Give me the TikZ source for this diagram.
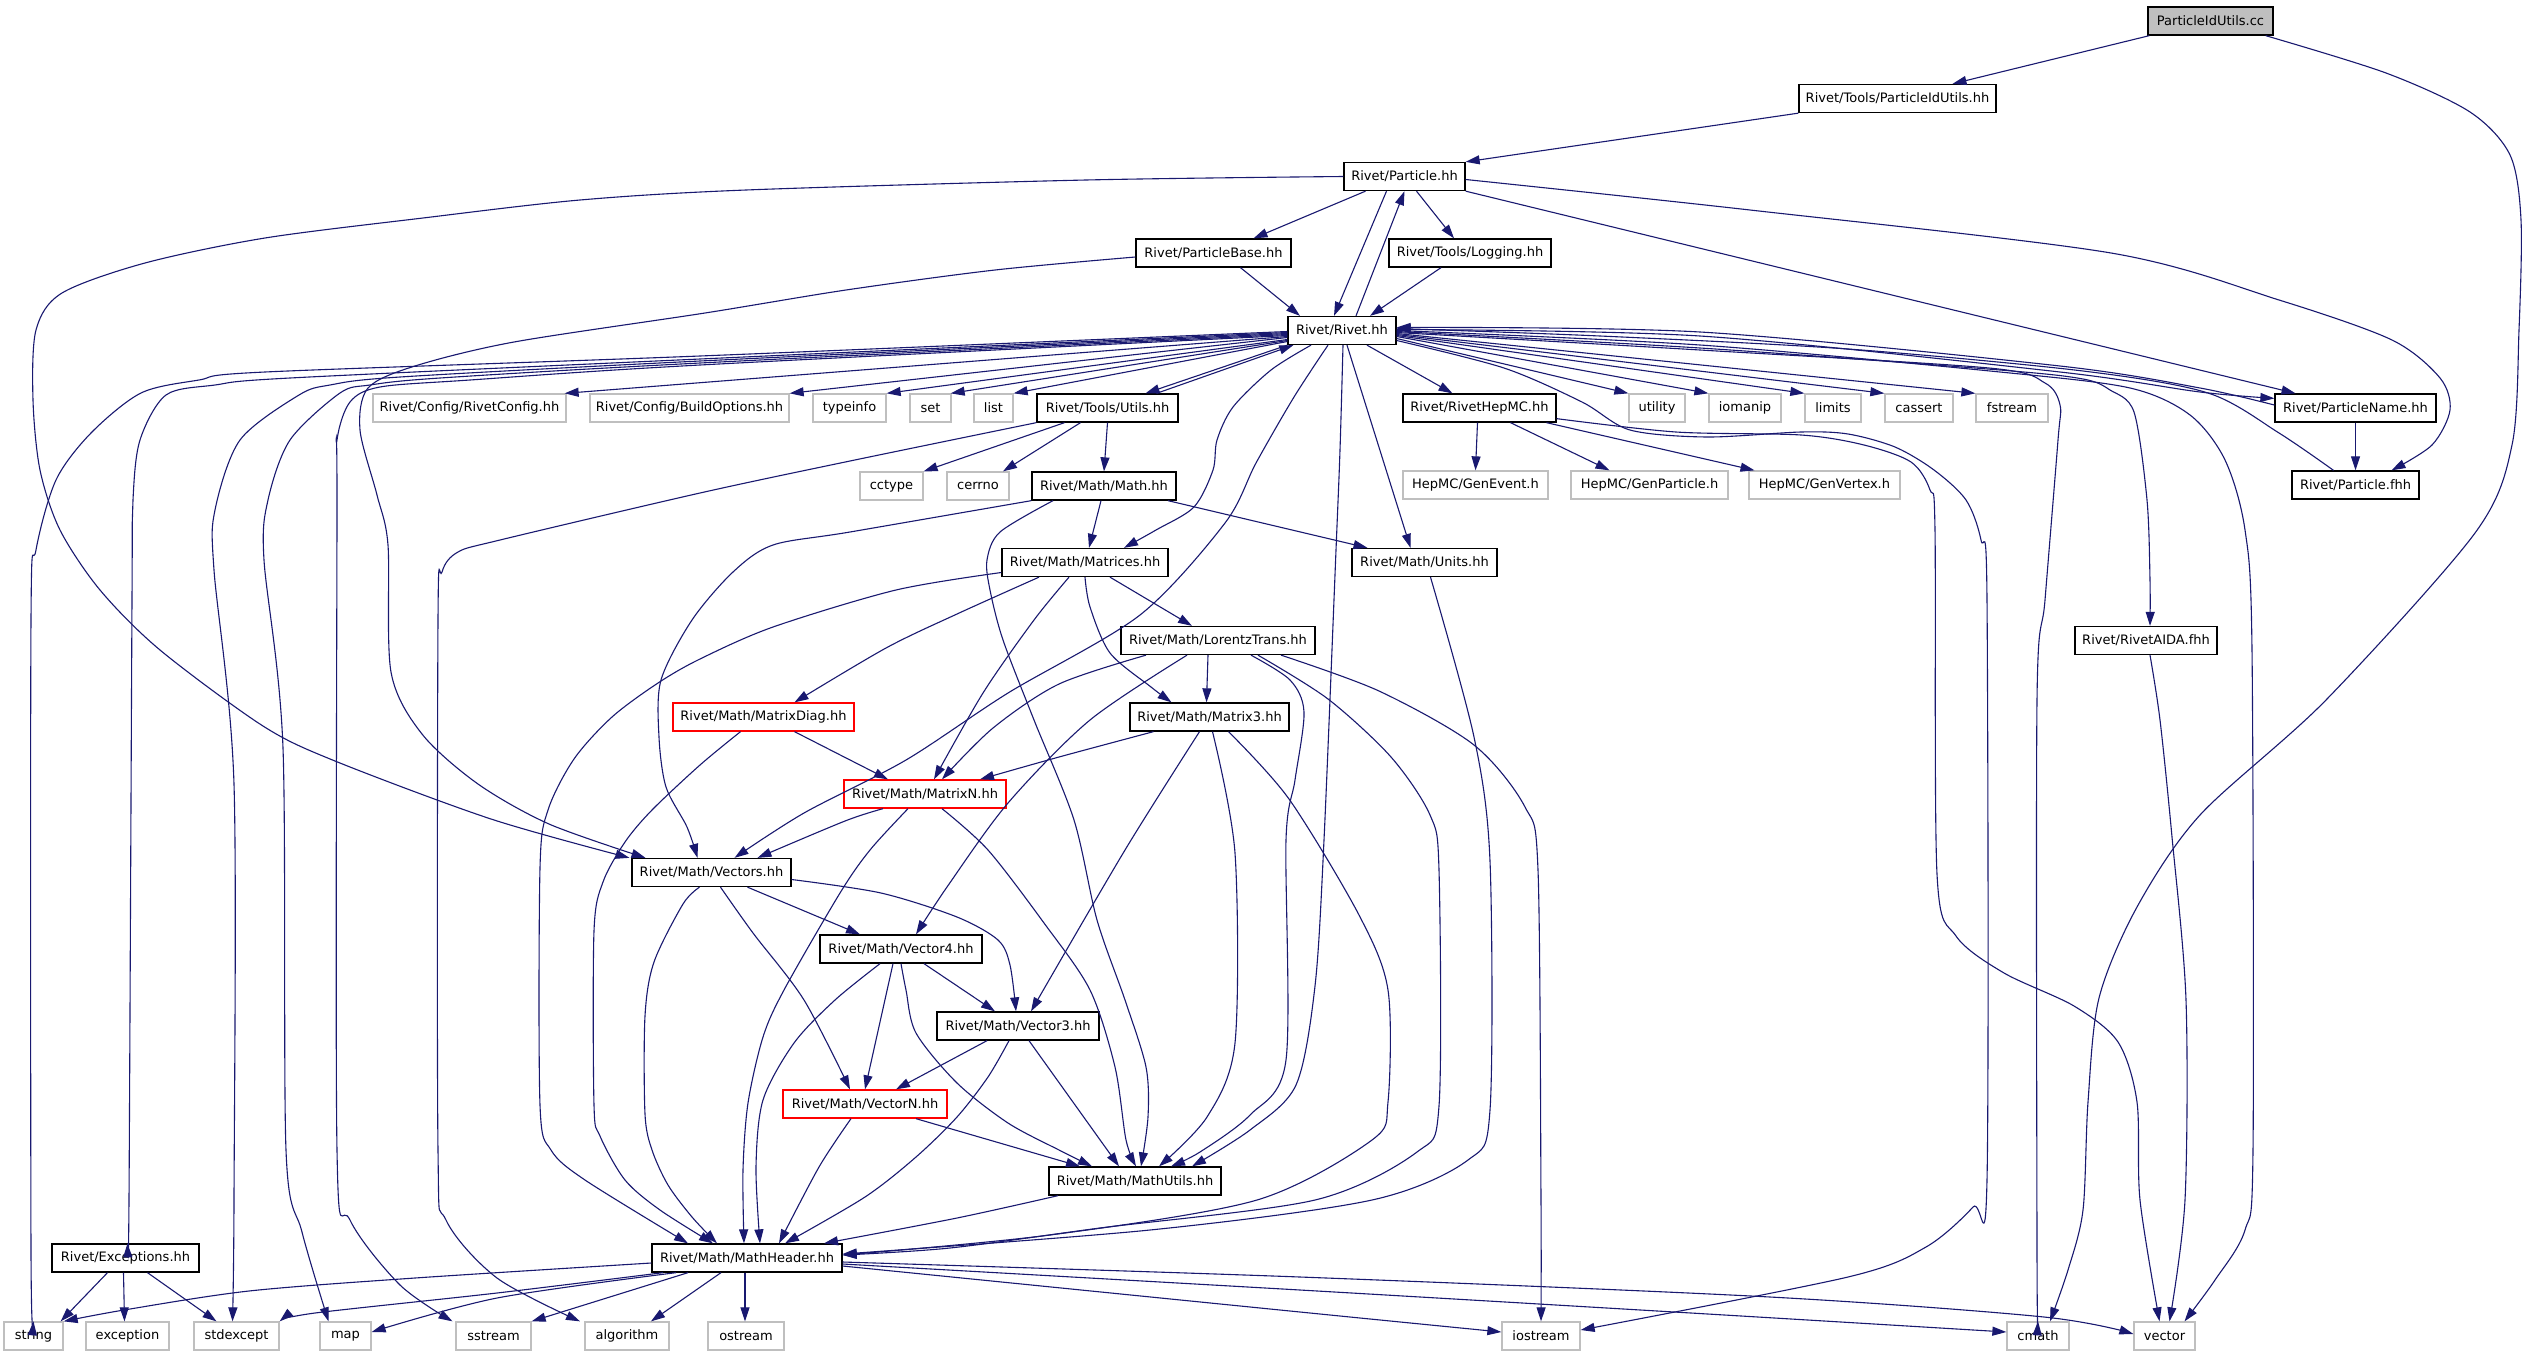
\documentclass[tikz,border=0pt]{standalone}
\usepackage{fontspec}
\setmainfont{DejaVu Sans}
\usetikzlibrary{arrows.meta}
\definecolor{ecol}{HTML}{191970}
\definecolor{gcol}{HTML}{BFBFBF}
\definecolor{rcol}{HTML}{FF0000}
\begin{document}
\begin{tikzpicture}[x=1pt,y=-1pt,
  nb/.style={draw=black, line width=1.3pt, minimum height=28pt, inner sep=0pt, font=\fontsize{13}{15}\selectfont, text=black},
  ng/.style={nb, draw=gcol},
  nr/.style={nb, draw=rcol},
  e/.style={draw=ecol, line width=1.1pt, -{Triangle[length=14pt,width=9pt]}},
]
\fill[white] (0,0) rectangle (2528,1355);
\useasboundingbox (0,0) rectangle (2528,1355);
% nodes
\node[nb, fill=gcol, minimum width=125pt] (pidcc) at (2210.5,21) {ParticleIdUtils.cc};
\node[nb, minimum width=197pt] (pidhh) at (1897.5,98.5) {Rivet/Tools/ParticleIdUtils.hh};
\node[nb, minimum width=121pt] (particle) at (1404.5,176.5) {Rivet/Particle.hh};
\node[nb, minimum width=155pt] (pbase) at (1213.5,253) {Rivet/ParticleBase.hh};
\node[nb, minimum width=162pt] (logging) at (1470,253) {Rivet/Tools/Logging.hh};
\node[nb, minimum width=108pt] (rivet) at (1342,330.5) {Rivet/Rivet.hh};
\node[ng, minimum width=193pt] (rconfig) at (469.5,408) {Rivet/Config/RivetConfig.hh};
\node[ng, minimum width=199pt] (bopts) at (689.5,408) {Rivet/Config/BuildOptions.hh};
\node[ng, minimum width=73pt] (typeinfo) at (849.5,408) {typeinfo};
\node[ng, minimum width=41pt] (set) at (930.5,408) {set};
\node[ng, minimum width=39pt] (list) at (993.5,408) {list};
\node[nb, minimum width=141pt] (utils) at (1107.5,408) {Rivet/Tools/Utils.hh};
\node[nb, minimum width=153pt] (hepmc) at (1479.5,408) {Rivet/RivetHepMC.hh};
\node[ng, minimum width=56pt] (utility) at (1657,408) {utility};
\node[ng, minimum width=72pt] (iomanip) at (1745,408) {iomanip};
\node[ng, minimum width=56pt] (limits) at (1833,408) {limits};
\node[ng, minimum width=68pt] (cassert) at (1919,408) {cassert};
\node[ng, minimum width=72pt] (fstream) at (2012,408) {fstream};
\node[nb, minimum width=161pt] (pname) at (2355.5,408) {Rivet/ParticleName.hh};
\node[ng, minimum width=63pt] (cctype) at (891.5,486) {cctype};
\node[ng, minimum width=62pt] (cerrno) at (978,486) {cerrno};
\node[nb, minimum width=144pt] (math) at (1104,486) {Rivet/Math/Math.hh};
\node[ng, minimum width=145pt] (genevent) at (1475.5,485) {HepMC/GenEvent.h};
\node[ng, minimum width=157pt] (genpart) at (1649.5,485) {HepMC/GenParticle.h};
\node[ng, minimum width=151pt] (genvert) at (1824.5,485) {HepMC/GenVertex.h};
\node[nb, minimum width=127pt] (pfhh) at (2355.5,485) {Rivet/Particle.fhh};
\node[nb, minimum width=166pt] (matrices) at (1085,562.5) {Rivet/Math/Matrices.hh};
\node[nb, minimum width=145pt] (units) at (1424.5,562.5) {Rivet/Math/Units.hh};
\node[nb, minimum width=194pt] (lorentz) at (1218,640.5) {Rivet/Math/LorentzTrans.hh};
\node[nb, minimum width=142pt] (aida) at (2146,640.5) {Rivet/RivetAIDA.fhh};
\node[nr, minimum width=181pt] (mdiag) at (763.5,717) {Rivet/Math/MatrixDiag.hh};
\node[nb, minimum width=159pt] (matrix3) at (1209.5,717) {Rivet/Math/Matrix3.hh};
\node[nr, minimum width=162pt] (matrixn) at (925,794) {Rivet/Math/MatrixN.hh};
\node[nb, minimum width=159pt] (vectors) at (711.5,872.5) {Rivet/Math/Vectors.hh};
\node[nb, minimum width=162pt] (vector4) at (901,949) {Rivet/Math/Vector4.hh};
\node[nb, minimum width=162pt] (vector3) at (1018,1026) {Rivet/Math/Vector3.hh};
\node[nr, minimum width=164pt] (vectorn) at (865,1104) {Rivet/Math/VectorN.hh};
\node[nb, minimum width=172pt] (mathutils) at (1135,1181) {Rivet/Math/MathUtils.hh};
\node[nb, minimum width=147pt] (exceptions) at (125.5,1258) {Rivet/Exceptions.hh};
\node[nb, minimum width=190pt] (mheader) at (747,1258) {Rivet/Math/MathHeader.hh};
\node[ng, minimum width=59pt] (string) at (33.5,1336) {string};
\node[ng, minimum width=83pt] (exception) at (127.5,1336) {exception};
\node[ng, minimum width=85pt] (stdexcept) at (236.5,1336) {stdexcept};
\node[ng, minimum width=51pt] (map) at (345.5,1336) {map};
\node[ng, minimum width=75pt] (sstream) at (493.5,1336) {sstream};
\node[ng, minimum width=84pt] (algorithm) at (627,1336) {algorithm};
\node[ng, minimum width=76pt] (ostream) at (746,1336) {ostream};
\node[ng, minimum width=78pt] (iostream) at (1541,1336) {iostream};
\node[ng, minimum width=62pt] (cmath) at (2038,1336) {cmath};
\node[ng, minimum width=61pt] (vector) at (2164.5,1336) {vector};
% edges
\draw[e] ([xshift=2pt]pidcc.south west) -- ([xshift=55pt]pidhh.north);
\draw[e] plot[smooth,tension=0.5] coordinates {([xshift=-8pt]pidcc.south east) (2386,73) (2470,112) (2510,155) (2521,220) (2519,330) (2512,445) (2475,533) (2326,700) (2200,815) (2137,907) (2099,998) (2088,1102) (2083,1210) (2068,1270) ([xshift=12pt]cmath.north)};
\draw[e] (pidhh.south west) -- (particle.north east);
\draw[e] ([xshift=-39pt]particle.south) -- ([xshift=40pt]pbase.north);
\draw[e] ([xshift=12pt]particle.south) -- ([xshift=-16pt]logging.north);
\draw[e] ([xshift=-18pt]particle.south) -- ([xshift=-8pt]rivet.north);
\draw[e] ([xshift=14pt]rivet.north) -- (particle.south);
\draw[e] (particle.south east) -- ([xshift=-60pt]pname.north);
\draw[e] plot[smooth,tension=0.5] coordinates {([yshift=-3pt]particle.east) (1750,210) (2111,253) (2279,300) (2392,340) (2440,378) (2450,410) (2432,445) ([xshift=36pt]pfhh.north)};
\draw[e] plot[smooth,tension=0.5] coordinates {(particle.west) (1086,180) (746,190) (580,200) (423,218) (265,238) (145,263) (62,293) (36,330) (33,400) (40,470) (60,530) (100,590) (160,650) (263,726) (335,761) (491,819) ([xshift=-82pt]vectors.north)};
\draw[e] ([xshift=27pt]pbase.south) -- ([xshift=-42pt]rivet.north);
\draw[e] ([xshift=-29pt]logging.south) -- ([xshift=28pt]rivet.north);
\draw[e] plot[smooth,tension=0.5] coordinates {([yshift=-4pt]pbase.west) (995,270) (846,290) (705,313) (514,342) (415,366) (368,388) (360,430) (377,495) (388,545) (391,672) (422,734) (478,784) (549,824) ([xshift=-66pt]vectors.north)};
% Rivet.hh fan left
\draw[e] ([yshift=-6pt]rivet.west) -- ([xshift=-2pt]rconfig.north east);
\draw[e] ([yshift=-7pt]rivet.west) -- (bopts.north east);
\draw[e] ([yshift=-9pt]rivet.west) -- (typeinfo.north east);
\draw[e] ([yshift=-10pt]rivet.west) -- ([xshift=-1pt]set.north east);
\draw[e] ([yshift=-11pt]rivet.west) -- (list.north east);
\draw[e] (rivet.south west) -- ([xshift=38pt]utils.north);
\draw[e] ([xshift=49pt]utils.north) -- ([xshift=6pt]rivet.south west);
\draw[e] plot[smooth,tension=0.5] coordinates {([yshift=-1pt]rivet.west) (700,356) (265,372) (199,380) (141,393) (91,433) (56,480) (36,550) (31,620) (31,1250) (string.north)};
\draw[e] plot[smooth,tension=0.5] coordinates {([yshift=-2pt]rivet.west) (700,359) (290,378) (215,385) (166,395) (140,440) (133,500) (132,600) (129,1200) ([xshift=2pt]exceptions.north)};
\draw[e] plot[smooth,tension=0.5] coordinates {([yshift=-3pt]rivet.west) (700,361) (400,377) (330,385) (299,395) (240,440) (215,510) (214,570) (234,784) (234,1200) ([xshift=-4pt]stdexcept.north)};
\draw[e] plot[smooth,tension=0.5] coordinates {([yshift=-4pt]rivet.west) (700,363) (440,378) (370,385) (340,393) (290,440) (268,500) (264,560) (283,748) (286,1150) (302,1232) ([xshift=-17pt]map.north)};
\draw[e] plot[smooth,tension=0.5] coordinates {([yshift=-5pt]rivet.west) (700,365) (470,380) (380,387) (350,402) (337,440) (337,500) (337,1150) (350,1220) (400,1285) ([xshift=-41pt]sstream.north)};
% Utils
\draw[e] ([xshift=-43pt]utils.south) -- (cctype.north east);
\draw[e] ([xshift=-27pt]utils.south) -- ([xshift=25pt]cerrno.north);
\draw[e] (utils.south) -- (math.north);
\draw[e] plot[smooth,tension=0.5] coordinates {(utils.south west) (850,461) (700,493) (500,540) (458,552) (442,572) (438,620) (438,1150) (446,1220) (497,1278) ([xshift=-47pt]algorithm.north)};
% Rivet.hh right
\draw[e] ([xshift=25pt]rivet.south) -- ([xshift=-27pt]hepmc.north);
\draw[e] ([yshift=-8pt]rivet.east) -- (utility.north west);
\draw[e] ([yshift=-6pt]rivet.east) -- (iomanip.north west);
\draw[e] ([yshift=-5pt]rivet.east) -- (limits.north west);
\draw[e] ([yshift=-4pt]rivet.east) -- (cassert.north west);
\draw[e] ([yshift=-3pt]rivet.east) -- (fstream.north west);
\draw[e] plot[smooth,tension=0.5] coordinates {([yshift=1pt]rivet.east) (1700,336) (2060,372) (2200,392) ([yshift=-5pt]pname.north west)};
\draw[e] plot[smooth,tension=0.5] coordinates {([yshift=3pt]pname.west) (2200,388) (2060,366) (1700,332) ([yshift=3pt]rivet.east)};
\draw[e] (pname.south) -- (pfhh.north);
\draw[e] plot[smooth,tension=0.5] coordinates {([xshift=-22pt]pfhh.north) (2279,433) (2208,393) (2083,371) (1848,349) (1600,336) ([yshift=2pt]rivet.east)};
\draw[e] ([xshift=-2pt]hepmc.south) -- (genevent.north);
\draw[e] ([xshift=31pt]hepmc.south) -- ([xshift=-40pt]genpart.north);
\draw[e] ([xshift=67pt]hepmc.south) -- ([xshift=-70pt]genvert.north);
\draw[e] plot[smooth,tension=0.5] coordinates {([yshift=4pt]hepmc.south east) (1676,432) (1801,435) (1864,445) (1911,462) (1930,490) (1935,530) (1937,874) (1956,936) (2004,973) (2074,1006) (2118,1042) (2137,1102) (2140,1200) ([xshift=-5pt]vector.north)};
\draw[e] plot[smooth,tension=0.5] coordinates {([yshift=-10pt]rivet.east) (1504,368) (1582,402) (1630,430) (1707,437) (1801,432) (1848,434) (1895,447) (1934,470) (1966,500) (1981,540) (1987,600) (1987,1180) (1973,1207) (1926,1247) (1848,1277) ([yshift=6pt]iostream.east)};
\draw[e] plot[smooth,tension=0.5] coordinates {([yshift=-2pt]rivet.east) (1700,350) (1989,368) (2045,383) (2060,405) (2058,440) (2045,600) (2037,700) (2037,1250) (cmath.north)};
\draw[e] plot[smooth,tension=0.5] coordinates {([yshift=-1pt]rivet.east) (1700,348) (2000,370) (2083,379) (2110,390) (2134,412) (2147,500) (2150,580) ([xshift=4pt]aida.north)};
\draw[e] plot[smooth,tension=0.5] coordinates {([xshift=4pt]aida.south) (2160,720) (2172,837) (2186,1000) (2185,1200) ([xshift=5pt]vector.north)};
\draw[e] plot[smooth,tension=0.5] coordinates {(rivet.east) (1700,345) (2000,372) (2130,388) (2190,415) (2225,460) (2245,530) (2252,650) (2253,1150) (2245,1230) (2215,1280) ([xshift=20pt]vector.north)};
% Rivet.hh down
\draw[e] ([xshift=5pt]rivet.south) -- ([xshift=-14pt]units.north);
\draw[e] plot[smooth,tension=0.5] coordinates {([xshift=1pt]rivet.south) (1340,450) (1336,550) (1324,840) (1315,986) (1296,1085) (1250,1130) ([xshift=57pt]mathutils.north)};
\draw[e] plot[smooth,tension=0.5] coordinates {([xshift=-31pt]rivet.south) (1271,370) (1233,407) (1217,440) (1213,470) (1194,507) (1156,530) ([xshift=39pt]matrices.north)};
\draw[e] plot[smooth,tension=0.5] coordinates {([xshift=-14pt]rivet.south) (1294,397) (1256,463) (1225,523) (1140,615) (1008,693) (906,760) (804,813) ([xshift=23pt]vectors.north)};
% Math.hh
\draw[e] ([xshift=-3pt]math.south) -- ([xshift=4pt]matrices.north);
\draw[e] ([xshift=64pt]math.south) -- ([xshift=-57pt]units.north);
\draw[e] plot[smooth,tension=0.5] coordinates {(math.south west) (850,532) (773,545) (733,572) (692,620) (661,680) (659,737) (666,787) (687,827) ([xshift=-14pt]vectors.north)};
\draw[e] plot[smooth,tension=0.5] coordinates {([xshift=-51pt]math.south) (1000,532) (987,560) (990,590) (1003,640) (1034,720) (1074,820) (1097,920) (1125,1000) (1146,1067) (1148,1117) ([xshift=6pt]mathutils.north)};
% Matrices.hh
\draw[e] plot[smooth,tension=0.5] coordinates {([xshift=-46pt]matrices.south) (957,614) (886,648) ([xshift=31pt]mdiag.north)};
\draw[e] plot[smooth,tension=0.5] coordinates {([xshift=-16pt]matrices.south) (1034,620) (983,693) ([xshift=9pt]matrixn.north)};
\draw[e] ([xshift=25pt]matrices.south) -- ([xshift=-26pt]lorentz.north);
\draw[e] plot[smooth,tension=0.5] coordinates {(matrices.south) (1090,607) (1110,653) (1151,687) ([xshift=-38pt]matrix3.north)};
\draw[e] plot[smooth,tension=0.5] coordinates {([yshift=-10pt]matrices.west) (896,590) (773,627) (700,659) (658,683) (612,717) (574,759) (548,810) (540,868) (540,1105) (551,1150) (585,1180) ([xshift=-59pt]mheader.north)};
% LorentzTrans.hh
\draw[e] ([xshift=-10pt]lorentz.south) -- ([xshift=-3pt]matrix3.north);
\draw[e] plot[smooth,tension=0.5] coordinates {([xshift=-72pt]lorentz.south) (1059,684) (993,728) ([xshift=17pt]matrixn.north)};
\draw[e] plot[smooth,tension=0.5] coordinates {([xshift=-31pt]lorentz.south) (1090,720) (1008,803) (947,887) ([xshift=15pt]vector4.north)};
\draw[e] plot[smooth,tension=0.5] coordinates {([xshift=33pt]lorentz.south) (1290,680) (1304,712) (1295,780) (1286,840) (1286,1060) (1250,1115) (1200,1152) ([xshift=36pt]mathutils.north)};
\draw[e] plot[smooth,tension=0.5] coordinates {([xshift=40pt]lorentz.south) (1328,699) (1391,757) (1430,815) (1439,870) (1439,1106) (1417,1152) (1315,1200) (1100,1228) (950,1248) ([yshift=3pt]mheader.east)};
\draw[e] plot[smooth,tension=0.5] coordinates {([xshift=63pt]lorentz.south) (1379,691) (1474,745) (1525,807) (1538,870) (1541,1200) (iostream.north)};
% Matrix3.hh
\draw[e] plot[smooth,tension=0.5] coordinates {([xshift=-56pt]matrix3.south) (1059,757) ([xshift=55pt]matrixn.north)};
\draw[e] plot[smooth,tension=0.5] coordinates {([xshift=-10pt]matrix3.south) (1125,850) ([xshift=13pt]vector3.north)};
\draw[e] plot[smooth,tension=0.5] coordinates {([xshift=3pt]matrix3.south) (1235,853) (1235,1043) (1207,1117) ([xshift=24pt]mathutils.north)};
\draw[e] plot[smooth,tension=0.5] coordinates {([xshift=19pt]matrix3.south) (1289,799) (1359,915) (1388,990) (1388,1102) (1372,1140) (1257,1200) (1050,1235) ([yshift=3pt]mheader.east)};
\draw[e] plot[smooth,tension=0.5] coordinates {([xshift=6pt]units.south) (1474,737) (1490,861) (1490,1110) (1468,1160) (1372,1200) (1150,1230) ([yshift=4pt]mheader.east)};
% MatrixDiag / MatrixN
\draw[e] ([xshift=31pt]mdiag.south) -- ([xshift=-37pt]matrixn.north);
\draw[e] plot[smooth,tension=0.5] coordinates {([xshift=-23pt]mdiag.south) (700,765) (652,810) (625,842) (603,882) (594,931) (594,1105) (600,1136) (625,1180) (660,1210) ([xshift=-34pt]mheader.north)};
\draw[e] plot[smooth,tension=0.5] coordinates {([xshift=-42pt]matrixn.south) (845,821) ([xshift=46pt]vectors.north)};
\draw[e] plot[smooth,tension=0.5] coordinates {([xshift=-17pt]matrixn.south) (870,850) (840,893) (784,990) (763,1037) (748,1103) (743,1170) ([xshift=-3pt]mheader.north)};
\draw[e] plot[smooth,tension=0.5] coordinates {([xshift=17pt]matrixn.south) (988,850) (1044,923) (1090,990) (1115,1067) (1126,1140) ([xshift=1pt]mathutils.north)};
% Vectors.hh
\draw[e] ([xshift=36pt]vectors.south) -- ([xshift=-41pt]vector4.north);
\draw[e] plot[smooth,tension=0.5] coordinates {([yshift=-7pt]vectors.east) (881,893) (957,917) (998,940) (1010,965) ([xshift=-2pt]vector3.north)};
\draw[e] plot[smooth,tension=0.5] coordinates {([xshift=9pt]vectors.south) (753,933) (804,1000) ([xshift=-15pt]vectorn.north)};
\draw[e] plot[smooth,tension=0.5] coordinates {([xshift=-12pt]vectors.south) (683,904) (654,962) (645,1016) (645,1114) (652,1150) (668,1185) (692,1217) ([xshift=-30pt]mheader.north)};
% Vector4.hh
\draw[e] ([xshift=23pt]vector4.south) -- ([xshift=-23pt]vector3.north);
\draw[e] ([xshift=-8pt]vector4.south) -- (vectorn.north);
\draw[e] plot[smooth,tension=0.5] coordinates {(vector4.south) (906,990) (916,1033) (957,1083) (1008,1123) (1059,1150) ([xshift=-43pt]mathutils.north)};
\draw[e] plot[smooth,tension=0.5] coordinates {([xshift=-21pt]vector4.south) (835,1000) (794,1043) (763,1100) (756,1167) ([xshift=13pt]mheader.north)};
% Vector3.hh
\draw[e] ([xshift=-31pt]vector3.south) -- ([xshift=31pt]vectorn.north);
\draw[e] ([xshift=11pt]vector3.south) -- ([xshift=-16pt]mathutils.north);
\draw[e] plot[smooth,tension=0.5] coordinates {([xshift=-9pt]vector3.south) (988,1077) (957,1117) (916,1157) (865,1197) ([xshift=38pt]mheader.north)};
% VectorN.hh
\draw[e] ([xshift=51pt]vectorn.south) -- ([xshift=-55pt]mathutils.north);
\draw[e] plot[smooth,tension=0.5] coordinates {([xshift=-14pt]vectorn.south) (819,1167) ([xshift=32pt]mheader.north)};
\draw[e] plot[smooth,tension=0.5] coordinates {([xshift=-77pt]mathutils.south) (957,1218) ([xshift=77pt]mheader.north)};
% Exceptions.hh
\draw[e] ([xshift=-18pt]exceptions.south) -- ([xshift=-3pt]string.north east);
\draw[e] ([xshift=-2pt]exceptions.south) -- ([xshift=-3pt]exception.north);
\draw[e] ([xshift=22pt]exceptions.south) -- ([xshift=-20pt]stdexcept.north);
% MathHeader.hh
\draw[e] plot[smooth,tension=0.5] coordinates {([yshift=-5pt]mheader.west) (415,1278) (249,1291) (124,1310) (string.north east)};
\draw[e] plot[smooth,tension=0.5] coordinates {([xshift=-84pt]mheader.south) (497,1293) (315,1313) (stdexcept.north east)};
\draw[e] plot[smooth,tension=0.5] coordinates {([xshift=-71pt]mheader.south) (497,1298) ([yshift=4pt]map.east)};
\draw[e] ([xshift=-59pt]mheader.south) -- (sstream.north east);
\draw[e] ([xshift=-26pt]mheader.south) -- ([xshift=24pt]algorithm.north);
\draw[e] ([xshift=-2pt]mheader.south) -- ([xshift=-1pt]ostream.north);
\draw[e] plot[smooth,tension=0.5] coordinates {([yshift=-8pt]mheader.east) (1300,1312) ([yshift=4pt]iostream.west)};
\draw[e] plot[smooth,tension=0.5] coordinates {([yshift=-6pt]mheader.east) (1300,1290) (1691,1313) ([yshift=4pt]cmath.west)};
\draw[e] plot[smooth,tension=0.5] coordinates {([yshift=-4pt]mheader.east) (1300,1277) (1770,1297) (2044,1317) ([yshift=2pt]vector.west)};
\end{tikzpicture}
\end{document}
